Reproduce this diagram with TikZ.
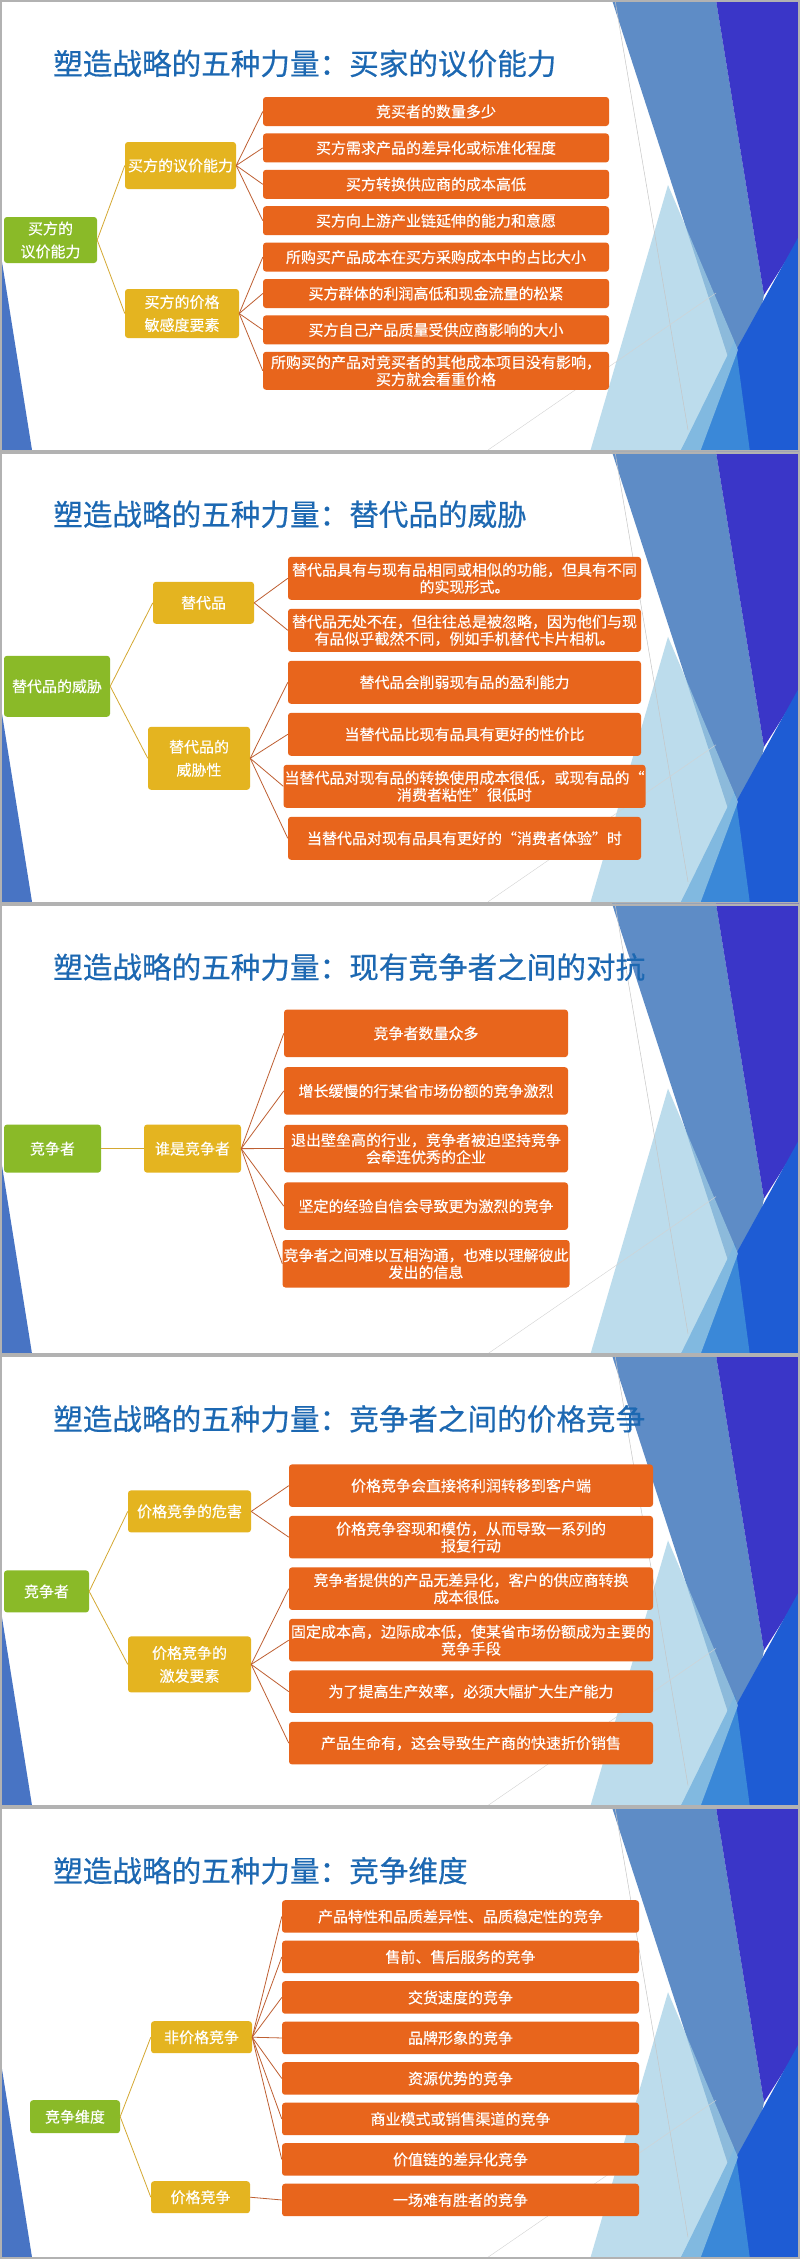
\documentclass[tikz,border=0pt]{standalone}
\usepackage{fontspec}
\newfontfamily\cjk[FakeBold=0.3]{Noto Sans CJK SC}
\newfontfamily\cjktitle[FakeBold=0.5]{Noto Sans CJK SC}
\usetikzlibrary{positioning}

\definecolor{rootgreen}{RGB}{138,186,40}
\definecolor{midgold}{RGB}{228,180,32}
\definecolor{leaforange}{RGB}{232,101,28}
\definecolor{titleblue}{RGB}{28,104,178}
\definecolor{linegold}{RGB}{212,168,50}
\definecolor{linerust}{RGB}{190,95,50}
\definecolor{steel}{RGB}{94,140,198}
\definecolor{violet}{RGB}{58,54,200}
\definecolor{brightblue}{RGB}{30,92,212}
\definecolor{midblue}{RGB}{58,136,216}
\definecolor{paleblue}{RGB}{160,206,228}
\definecolor{slatebar}{RGB}{72,116,196}

\begin{document}
\begin{tikzpicture}[x=1pt, y=-1pt,
    % styles of the boxes and lines
    titletext/.style={anchor=west, inner sep=0pt, text=titleblue, font=\cjktitle\fontsize{29.6}{32}\selectfont},
    rootbox/.style={fill=rootgreen, rounded corners=3pt, text=white, align=center, inner sep=2pt, font=\cjk\fontsize{15}{23}\selectfont},
    branchbox/.style={fill=midgold, rounded corners=3pt, text=white, align=center, inner sep=2pt, font=\cjk\fontsize{15}{23}\selectfont},
    leafbox/.style={fill=leaforange, rounded corners=3pt, text=white, align=center, inner sep=1pt, font=\cjk\fontsize{15}{17}\selectfont},
    trunk/.style={draw=linegold, line width=0.8pt},
    twig/.style={draw=linerust, line width=0.8pt}
    ]

    \useasboundingbox (0,0) rectangle (800,2259);

    % slide backgrounds (same theme on every slide)
    \foreach \oy in {0,451.8,903.6,1355.4,1807.2}{
        \begin{scope}[shift={(0,\oy)}]
            \fill[white] (0,0) rectangle (800,451.8);
            \fill[steel] (612,0) -- (716,0) -- (764,295) -- (742,400) -- cycle;
            \fill[violet] (716,0) -- (799,0) -- (799,240) -- (764,295) -- cycle;
            \fill[brightblue] (799,236) -- (799,452) -- (680,452) -- cycle;
            \fill[midblue] (680,452) -- (735,340) -- (750,452) -- cycle;
            \fill[paleblue, opacity=0.7] (668,185) -- (738,350) -- (700,452) -- (590,452) -- cycle;
            \draw[gray!45, line width=0.5pt] (615,0) -- (688,430);
            \draw[gray!35, line width=0.4pt] (488,450) -- (716,293);
            \fill[slatebar] (2,262) -- (2,450) -- (32,450) -- cycle;
            \draw[gray!60, line width=2pt] (1,1) rectangle (799,450.8);
        \end{scope}
    }

    % slide 1
    \begin{scope}[node distance=7pt, leafbox/.append style={minimum width=346pt, minimum height=29pt}]
        \node[titletext] (t1) at (53,63.5) {塑造战略的五种力量：买家的议价能力};
        \node[rootbox, minimum width=93pt, minimum height=46pt] (r1) at (50.5,240) {买方的\\议价能力};
        \node[branchbox, minimum width=111pt, minimum height=47pt] (b1a) at (180.5,165.5) {买方的议价能力};
        \node[branchbox, minimum width=114pt, minimum height=49pt] (b1b) at (182,313.5) {买方的价格\\敏感度要素};
        \node[leafbox] (l1a) at (436,111.5) {竞买者的数量多少};
        \node[leafbox, below=of l1a] (l1b) {买方需求产品的差异化或标准化程度};
        \node[leafbox, below=of l1b] (l1c) {买方转换供应商的成本高低};
        \node[leafbox, below=of l1c] (l1d) {买方向上游产业链延伸的能力和意愿};
        \node[leafbox, below=of l1d] (l1e) {所购买产品成本在买方采购成本中的占比大小};
        \node[leafbox, below=of l1e] (l1f) {买方群体的利润高低和现金流量的松紧};
        \node[leafbox, below=of l1f] (l1g) {买方自己产品质量受供应商影响的大小};
        \node[leafbox, below=of l1g, minimum height=38pt] (l1h) {所购买的产品对竞买者的其他成本项目没有影响，\\买方就会看重价格};

        \draw[trunk] (r1.east) -- (b1a.west);
        \draw[trunk] (r1.east) -- (b1b.west);
        \foreach \n in {l1a,l1b,l1c,l1d} \draw[twig] (b1a.east) -- (\n.west);
        \foreach \n in {l1e,l1f,l1g,l1h} \draw[twig] (b1b.east) -- (\n.west);
    \end{scope}

    % slide 2
    \begin{scope}[shift={(0,451.8)}, node distance=8.6pt, leafbox/.append style={minimum width=353pt, minimum height=43pt}]
        \node[titletext] (t2) at (53,62.5) {塑造战略的五种力量：替代品的威胁};
        \node[rootbox, minimum width=106pt, minimum height=61pt] (r2) at (57,234.5) {替代品的威胁};
        \node[branchbox, minimum width=101pt, minimum height=42pt] (b2a) at (203.5,151) {替代品};
        \node[branchbox, minimum width=102pt, minimum height=63pt] (b2b) at (199,306.5) {替代品的\\威胁性};
        \node[leafbox] (l2a) at (464.5,126.5) {替代品具有与现有品相同或相似的功能，但具有不同\\的实现形式。};
        \node[leafbox, below=of l2a] (l2b) {替代品无处不在，但往往总是被忽略，因为他们与现\\有品似乎截然不同，例如手机替代卡片相机。};
        \node[leafbox, below=of l2b] (l2c) {替代品会削弱现有品的盈利能力};
        \node[leafbox, below=of l2c] (l2d) {当替代品比现有品具有更好的性价比};
        \node[leafbox, below=of l2d] (l2e) {当替代品对现有品的转换使用成本很低，或现有品的“\\消费者粘性”很低时};
        \node[leafbox, below=of l2e] (l2f) {当替代品对现有品具有更好的“消费者体验”时};

        \draw[trunk] (r2.east) -- (b2a.west);
        \draw[trunk] (r2.east) -- (b2b.west);
        \foreach \n in {l2a,l2b} \draw[twig] (b2a.east) -- (\n.west);
        \foreach \n in {l2c,l2d,l2e,l2f} \draw[twig] (b2b.east) -- (\n.west);
    \end{scope}

    % slide 3
    \begin{scope}[shift={(0,903.6)}, node distance=9.7pt, leafbox/.append style={minimum width=284pt, minimum height=47.5pt}]
        \node[titletext] (t3) at (53,63.5) {塑造战略的五种力量：现有竞争者之间的对抗};
        \node[rootbox, minimum width=97pt, minimum height=48pt] (r3) at (52.5,245) {竞争者};
        \node[branchbox, minimum width=97pt, minimum height=48pt] (b3a) at (192.5,245) {谁是竞争者};
        \node[leafbox] (l3a) at (426,129.75) {竞争者数量众多};
        \node[leafbox, below=of l3a] (l3b) {增长缓慢的行某省市场份额的竞争激烈};
        \node[leafbox, below=of l3b] (l3c) {退出壁垒高的行业，竞争者被迫坚持竞争\\会牵连优秀的企业};
        \node[leafbox, below=of l3c] (l3d) {坚定的经验自信会导致更为激烈的竞争};
        \node[leafbox, below=of l3d] (l3e) {竞争者之间难以互相沟通，也难以理解彼此\\发出的信息};

        \draw[trunk] (r3.east) -- (b3a.west);
        \foreach \n in {l3a,l3b,l3c,l3d,l3e} \draw[twig] (b3a.east) -- (\n.west);
    \end{scope}

    % slide 4
    \begin{scope}[shift={(0,1355.4)}, node distance=8.6pt, leafbox/.append style={minimum width=364pt, minimum height=42.5pt}]
        \node[titletext] (t4) at (53,63.5) {塑造战略的五种力量：竞争者之间的价格竞争};
        \node[rootbox, minimum width=85pt, minimum height=42pt] (r4) at (46.5,236) {竞争者};
        \node[branchbox, minimum width=123pt, minimum height=42pt] (b4a) at (189.5,156) {价格竞争的危害};
        \node[branchbox, minimum width=123pt, minimum height=56pt] (b4b) at (189.5,309) {价格竞争的\\激发要素};
        \node[leafbox] (l4a) at (471,130.25) {价格竞争会直接将利润转移到客户端};
        \node[leafbox, below=of l4a] (l4b) {价格竞争容现和模仿，从而导致一系列的\\报复行动};
        \node[leafbox, below=of l4b] (l4c) {竞争者提供的产品无差异化，客户的供应商转换\\成本很低。};
        \node[leafbox, below=of l4c] (l4d) {固定成本高，边际成本低，使某省市场份额成为主要的\\竞争手段};
        \node[leafbox, below=of l4d] (l4e) {为了提高生产效率，必须大幅扩大生产能力};
        \node[leafbox, below=of l4e] (l4f) {产品生命有，这会导致生产商的快速折价销售};

        \draw[trunk] (r4.east) -- (b4a.west);
        \draw[trunk] (r4.east) -- (b4b.west);
        \foreach \n in {l4a,l4b} \draw[twig] (b4a.east) -- (\n.west);
        \foreach \n in {l4c,l4d,l4e,l4f} \draw[twig] (b4b.east) -- (\n.west);
    \end{scope}

    % slide 5
    \begin{scope}[shift={(0,1807.2)}, node distance=7.6pt, leafbox/.append style={minimum width=357pt, minimum height=32.5pt}]
        \node[titletext] (t5) at (53,63.5) {塑造战略的五种力量：竞争维度};
        \node[rootbox, minimum width=90pt, minimum height=33pt] (r5) at (75,309.5) {竞争维度};
        \node[branchbox, minimum width=101pt, minimum height=32pt] (b5a) at (201.5,230) {非价格竞争};
        \node[branchbox, minimum width=99pt, minimum height=32pt] (b5b) at (200.5,390) {价格竞争};
        \node[leafbox] (l5a) at (460.5,109.25) {产品特性和品质差异性、品质稳定性的竞争};
        \node[leafbox, below=of l5a] (l5b) {售前、售后服务的竞争};
        \node[leafbox, below=of l5b] (l5c) {交货速度的竞争};
        \node[leafbox, below=of l5c] (l5d) {品牌形象的竞争};
        \node[leafbox, below=of l5d] (l5e) {资源优势的竞争};
        \node[leafbox, below=of l5e] (l5f) {商业模式或销售渠道的竞争};
        \node[leafbox, below=of l5f] (l5g) {价值链的差异化竞争};
        \node[leafbox, below=of l5g] (l5h) {一场难有胜者的竞争};

        \draw[trunk] (r5.east) -- (b5a.west);
        \draw[trunk] (r5.east) -- (b5b.west);
        \foreach \n in {l5a,l5b,l5c,l5d,l5e,l5f,l5g} \draw[twig] (b5a.east) -- (\n.west);
        \draw[twig] (b5b.east) -- (l5h.west);
    \end{scope}

\end{tikzpicture}
\end{document}
